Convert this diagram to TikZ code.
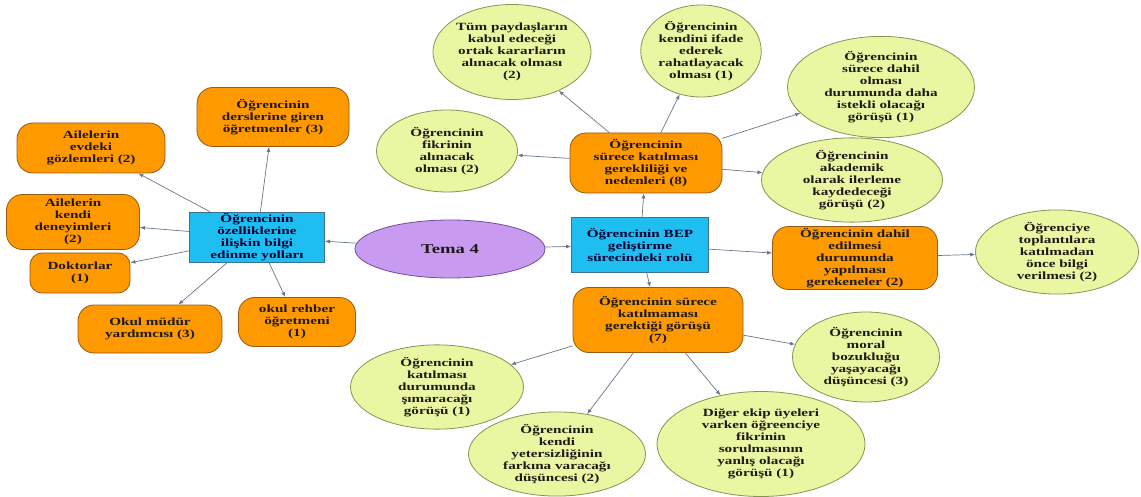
\documentclass[tikz,border=0pt]{standalone}
\usepackage{fontspec}
\setmainfont{Liberation Serif}
\newfontfamily\nf[FakeStretch=1.38]{Liberation Serif}
\usetikzlibrary{shapes.geometric,arrows.meta}
\definecolor{orng}{RGB}{255,153,0}
\definecolor{orngb}{RGB}{150,90,20}
\definecolor{grn}{RGB}{234,247,162}
\definecolor{grnb}{RGB}{130,150,80}
\definecolor{blu}{RGB}{30,190,240}
\definecolor{blub}{RGB}{60,110,150}
\definecolor{lav}{RGB}{200,155,240}
\definecolor{lavb}{RGB}{110,80,150}
\definecolor{arrc}{RGB}{105,120,140}
\definecolor{txt}{RGB}{30,25,20}
\tikzset{
  base/.style={align=center,inner sep=0pt,text=txt,font=\nf\bfseries\fontsize{11}{12}\selectfont,line width=0.8pt},
  obox/.style={base,rectangle,rounded corners=16pt,fill=orng,draw=orngb},
  gell/.style={base,ellipse,fill=grn,draw=grnb},
  bbox/.style={base,rectangle,fill=blu,draw=blub,text=black!80!blue},
  arr/.style={draw=arrc,line width=0.7pt,-{Latex[length=5pt,width=4pt]}},
}
\begin{document}
\begin{tikzpicture}[x=1pt,y=-1pt]
\useasboundingbox[fill=white] (0,0) rectangle (1141,497);
% centre
\node[base,ellipse,fill=lav,draw=lavb,minimum width=190,minimum height=58,font=\nf\bfseries\fontsize{13.5}{15}\selectfont] (tema) at (450,249) {Tema 4};
% left cluster
\node[bbox,minimum width=135,minimum height=50] (lb) at (257,237) {Öğrencinin\\özelliklerine\\ilişkin bilgi\\edinme yolları};
\node[obox,minimum width=152,minimum height=59] (l1) at (273,117) {Öğrencinin\\derslerine giren\\öğretmenler (3)};
\node[obox,minimum width=148,minimum height=50] (l2) at (91,148) {Ailelerin\\evdeki\\gözlemleri (2)};
\node[obox,minimum width=133,minimum height=55] (l3) at (73,222) {Ailelerin\\kendi\\deneyimleri\\(2)};
\node[obox,minimum width=100,minimum height=40,rounded corners=12pt] (l4) at (80,273) {Doktorlar\\(1)};
\node[obox,minimum width=144,minimum height=48] (l5) at (150,329) {Okul müdür\\yardımcısı (3)};
\node[obox,minimum width=117,minimum height=49] (l6) at (297,322) {okul rehber\\öğretmeni\\(1)};
% right cluster
\node[bbox,minimum width=137,minimum height=55] (rb) at (640,245) {Öğrencinin BEP\\geliştirme\\sürecindeki rolü};
\node[obox,minimum width=152,minimum height=60] (t) at (646,163) {Öğrencinin\\sürece katılması\\gerekliliği ve\\nedenleri (8)};
\node[gell,minimum width=155,minimum height=95] (t1) at (512,52) {Tüm paydaşların\\kabul edeceği\\ortak kararların\\alınacak olması\\(2)};
\node[gell,minimum width=118,minimum height=92] (t2) at (701,51) {Öğrencinin\\kendini ifade\\ederek\\rahatlayacak\\olması (1)};
\node[gell,minimum width=141,minimum height=82] (t3) at (447,151) {Öğrencinin\\fikrinin\\alınacak\\olması (2)};
\node[gell,minimum width=187,minimum height=97] (t4) at (881,87) {Öğrencinin\\sürece dahil\\olması\\durumunda daha\\istekli olacağı\\görüşü (1)};
\node[gell,minimum width=181,minimum height=84] (t5) at (852,180) {Öğrencinin\\akademik\\olarak ilerleme\\kaydedeceği\\görüşü (2)};
\node[obox,minimum width=165,minimum height=63] (r) at (855,258) {Öğrencinin dahil\\edilmesi\\durumunda\\yapılması\\gerekeneler (2)};
\node[gell,minimum width=163,minimum height=79] (r1) at (1057,252) {Öğrenciye\\toplantılara\\katılmadan\\önce bilgi\\verilmesi (2)};
\node[obox,minimum width=170,minimum height=65] (b) at (658,320) {Öğrencinin sürece\\katılmaması\\gerektiği görüşü\\(7)};
\node[gell,minimum width=173,minimum height=81] (b1) at (437,387) {Öğrencinin\\katılması\\durumunda\\şımaracağı\\görüşü (1)};
\node[gell,minimum width=177,minimum height=82] (b2) at (557,454) {Öğrencinin\\kendi\\yetersizliğinin\\farkına varacağı\\düşüncesi (2)};
\node[gell,minimum width=208,minimum height=105] (b3) at (761,444) {Diğer ekip üyeleri\\varken öğreenciye\\fikrinin\\sorulmasının\\yanlış olacağı\\görüşü (1)};
\node[gell,minimum width=147,minimum height=90] (b4) at (866,357) {Öğrencinin\\moral\\bozukluğu\\yaşayacağı\\düşüncesi (3)};
% connectors
\draw[arr] (tema) -- (lb);
\draw[arr] (tema) -- (rb);
\foreach \n in {l1,l2,l3,l4,l5,l6} \draw[arr] (lb) -- (\n);
\draw[arr] (rb) -- (t);
\draw[arr] (rb) -- (r);
\draw[arr] (rb) -- (b);
\foreach \n in {t1,t2,t3,t4,t5} \draw[arr] (t) -- (\n);
\draw[arr] (r) -- (r1);
\foreach \n in {b1,b2,b3,b4} \draw[arr] (b) -- (\n);
\end{tikzpicture}
\end{document}
